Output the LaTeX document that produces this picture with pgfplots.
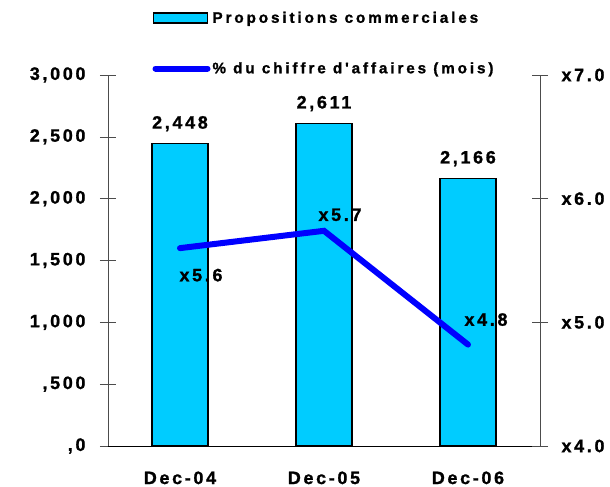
\documentclass[border=0pt]{standalone}
\usepackage{fontspec}
\setmainfont{Liberation Sans Bold}[LetterSpace=15, Ligatures=TeXOff, FakeBold=1.2]
\newfontfamily\legfont{Liberation Sans Bold}[LetterSpace=19, Ligatures=TeXOff, FakeBold=1.2]
\usepackage{pgfplots}
\pgfplotsset{compat=1.18}
\definecolor{barcyan}{RGB}{0,204,255}
\definecolor{lineblue}{RGB}{0,0,255}
\newcommand{\tickfont}{\fontsize{18}{20}\selectfont}
\begin{document}
\begin{tikzpicture}
\path[use as bounding box] (-108bp,-41bp) rectangle (502bp,446bp);
\begin{axis}[
  at={(0,0)}, anchor=south west,
  scale only axis, width=432bp, height=371bp,
  xmin=-0.5, xmax=2.5, ymin=0, ymax=3000,
  axis x line*=bottom, axis y line*=left,
  x axis line style={-, black, line width=0.8pt},
  y axis line style={-, black!70, line width=0.6pt},
  xtick={0,1,2}, xticklabels={Dec-04,Dec-05,Dec-06},
  major x tick style={draw=none},
  ytick={0,500,1000,1500,2000,2500,3000},
  yticklabels={{,0},{,500},{1,000},{1,500},{2,000},{2,500},{3,000}},
  tick align=center, major tick length=16bp,
  y tick style={black!70, line width=0.6pt},
  ticklabel style={font=\tickfont},
  xticklabel style={yshift=-14bp},
  yticklabel style={xshift=-11bp},
  /pgf/number format/assume math mode=true,
  legend style={at={(0.5,1)}, anchor=south, yshift=-2bp, draw=none, fill=none,
    font=\legfont\fontsize{15.3}{17}\selectfont, row sep=34bp, inner sep=0pt,
    /tikz/every even column/.append style={column sep=4bp}},
  legend cell align=left,
]
\addplot[ybar, bar width=56bp, bar shift=0pt, fill=barcyan, draw=black, line width=1.1pt,
  nodes near coords={\pgfmathprintnumber[1000 sep={,}]{\pgfplotspointmeta}},
  every node near coord/.append style={font=\tickfont, black, yshift=8bp},
  legend image code/.code={\draw[fill=barcyan, draw=black, line width=1.1pt] (0bp,-5bp) rectangle (54bp,5bp);}]
  coordinates {(0,2448) (1,2611) (2,2166)};
\addlegendentry{Propositions commerciales}
\addlegendimage{legend image code/.code={\draw[lineblue, line width=6bp, line cap=round] (2bp,0bp) -- (54bp,0bp);}}
\addlegendentry{\% du chiffre d'affaires (mois)}
\end{axis}
\begin{axis}[
  at={(0,0)}, anchor=south west,
  scale only axis, width=432bp, height=371bp,
  xmin=-0.5, xmax=2.5, ymin=4, ymax=7,
  axis x line=none, axis y line*=right,
  y axis line style={-, black!70, line width=0.6pt},
  ytick={4,5,6,7}, yticklabels={x4.0,x5.0,x6.0,x7.0},
  tick align=center, major tick length=16bp,
  y tick style={black!70, line width=0.6pt},
  ticklabel style={font=\tickfont},
  yticklabel style={xshift=10bp},
  /pgf/number format/assume math mode=true,
]
\addplot[lineblue, line width=6bp, line cap=round, line join=miter, mark=none]
  coordinates {(0,5.60) (1,5.74) (2,4.82)};
\node[font=\tickfont] at (axis cs:0,5.60) [xshift=21bp, yshift=-27bp] {x5.6};
\node[font=\tickfont] at (axis cs:1,5.74) [xshift=16bp, yshift=16bp] {x5.7};
\node[font=\tickfont] at (axis cs:2,4.82) [xshift=18bp, yshift=25bp] {x4.8};
\end{axis}
\end{tikzpicture}
\end{document}
